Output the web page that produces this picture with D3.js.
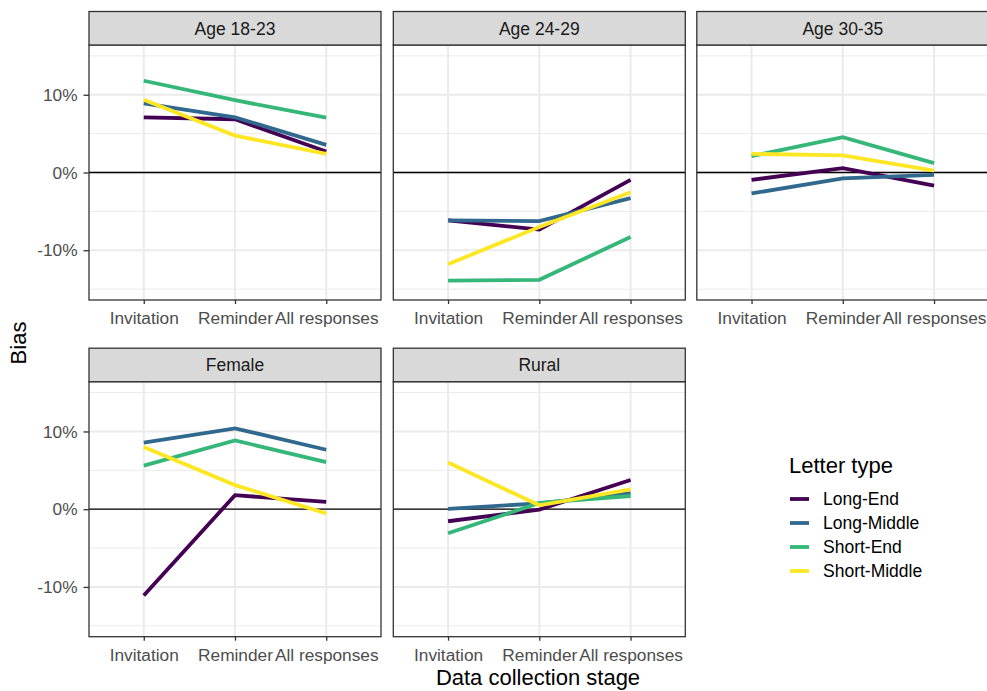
<!doctype html>
<html>
<head>
<style>
    body { margin: 0; background: #fff; }
    text { font-family: "Liberation Sans", Arial, sans-serif; }
</style>
<script src="https://d3js.org/d3.v7.min.js"></script>
</head>
<body>
<svg width="987" height="691"></svg>
<script>
    // data (bias in %)
    var stages = ["Invitation", "Reminder", "All responses"];
    var letterTypes = ["Long-End", "Long-Middle", "Short-End", "Short-Middle"];
    var facets = ["Age 18-23", "Age 24-29", "Age 30-35", "Female", "Rural"];
    var yTicks = [-10, 0, 10];

    var age1823 = [[7.1, 6.85, 2.7], [8.9, 7.1, 3.55], [11.8, 9.3, 7.05], [9.35, 4.75, 2.4]];
    var age2429 = [[-6.15, -7.35, -0.95], [-6.15, -6.25, -3.3], [-13.9, -13.8, -8.3], [-11.8, -7.0, -2.55]];
    var age3035 = [[-0.95, 0.57, -1.7], [-2.7, -0.75, -0.3], [2.1, 4.55, 1.2], [2.4, 2.2, 0.25]];
    var female  = [[-11.1, 1.8, 0.95], [8.55, 10.4, 7.65], [5.6, 8.85, 6.05], [8.0, 3.1, -0.55]];
    var rural   = [[-1.55, -0.05, 3.75], [0.05, 0.75, 2.05], [-3.1, 0.8, 1.7], [6.0, 0.5, 2.55]];
    var facetValues = [age1823, age2429, age3035, female, rural];

    var colors = ["#440154", "#31688E", "#35B779", "#FDE725"];

    var svg = d3.select("svg");
    var font = "'Liberation Sans', Arial, sans-serif";

    var colLeft = [89, 393.3, 696.8],
        panelW = 292,
        rowTop = [45, 381.7],
        panelH = 255,
        stripH = 33.5;

    var color = d3.scaleOrdinal().domain(letterTypes).range(colors);

    facets.forEach(function(name, fi) {
        var col = fi % 3, row = Math.floor(fi / 3);
        var left = colLeft[col], top = rowTop[row];

        var x = d3.scalePoint().domain(stages).range([0, panelW]).padding(0.6);
        var y = d3.scaleLinear().domain([-16.4, 16.4]).range([panelH, 0]);

        var g = svg.append("g").attr("transform", "translate(" + left + "," + top + ")");

        // minor grid
        [-15, -5, 5, 15].forEach(function(v) {
            g.append("line").attr("x1", 0).attr("x2", panelW)
             .attr("y1", y(v)).attr("y2", y(v))
             .attr("stroke", "#ebebeb").attr("stroke-width", 1);
        });
        // major grid
        yTicks.forEach(function(v) {
            g.append("line").attr("x1", 0).attr("x2", panelW)
             .attr("y1", y(v)).attr("y2", y(v))
             .attr("stroke", "#ebebeb").attr("stroke-width", 2);
        });
        stages.forEach(function(s) {
            g.append("line").attr("x1", x(s)).attr("x2", x(s))
             .attr("y1", 0).attr("y2", panelH)
             .attr("stroke", "#ebebeb").attr("stroke-width", 2);
        });

        // zero line
        g.append("line").attr("x1", 0).attr("x2", panelW)
         .attr("y1", y(0)).attr("y2", y(0))
         .attr("stroke", "#000").attr("stroke-width", 1.3);

        // series
        var line = d3.line()
            .x(function(d, i) { return x(stages[i]); })
            .y(function(d) { return y(d); });

        facetValues[fi].forEach(function(vals, si) {
            g.append("path")
             .attr("d", line(vals))
             .attr("fill", "none")
             .attr("stroke", color(letterTypes[si]))
             .attr("stroke-width", 3.8);
        });

        // panel border
        g.append("rect").attr("x", 0).attr("y", 0)
         .attr("width", panelW).attr("height", panelH)
         .attr("fill", "none").attr("stroke", "#333333").attr("stroke-width", 1.3);

        // strip
        g.append("rect").attr("x", 0).attr("y", -stripH)
         .attr("width", panelW).attr("height", stripH)
         .attr("fill", "#d9d9d9").attr("stroke", "#333333").attr("stroke-width", 1.3);
        g.append("text")
         .attr("x", panelW / 2).attr("y", -stripH / 2)
         .attr("dy", "0.36em")
         .attr("text-anchor", "middle")
         .attr("font-size", "17.5px")
         .attr("fill", "#1a1a1a")
         .text(name);

        // x axis
        var xa = g.append("g")
         .attr("transform", "translate(0," + panelH + ")")
         .call(d3.axisBottom(x).tickSize(4).tickPadding(8));
        xa.select(".domain").remove();
        xa.selectAll(".tick line").attr("stroke", "#333333").attr("stroke-width", 1.3);
        xa.selectAll(".tick text")
          .attr("font-family", font).attr("font-size", "17.3px").attr("fill", "#4d4d4d");

        // y axis on first column only
        if (col === 0) {
            var ya = g.append("g")
             .call(d3.axisLeft(y).tickValues(yTicks).tickSize(5.5).tickPadding(6)
                   .tickFormat(function(d) { return d + "%"; }));
            ya.select(".domain").remove();
            ya.selectAll(".tick line").attr("stroke", "#333333").attr("stroke-width", 1.3);
            ya.selectAll(".tick text")
              .attr("font-family", font).attr("font-size", "17.3px").attr("fill", "#4d4d4d");
        }
    });

    // axis titles
    svg.append("text")
       .attr("transform", "translate(26,343) rotate(-90)")
       .attr("text-anchor", "middle")
       .attr("font-size", "22px")
       .attr("fill", "#000")
       .text("Bias");

    svg.append("text")
       .attr("x", 538).attr("y", 685)
       .attr("text-anchor", "middle")
       .attr("font-size", "22px")
       .attr("fill", "#000")
       .text("Data collection stage");

    // legend
    var legend = svg.append("g").attr("transform", "translate(789,0)");
    legend.append("text")
       .attr("x", 0).attr("y", 473)
       .attr("font-size", "22px")
       .attr("fill", "#000")
       .text("Letter type");

    letterTypes.forEach(function(t, i) {
        var ly = 499 + i * 24;
        legend.append("line")
           .attr("x1", 1).attr("x2", 20)
           .attr("y1", ly).attr("y2", ly)
           .attr("stroke", color(t)).attr("stroke-width", 3.8);
        legend.append("text")
           .attr("x", 34).attr("y", ly)
           .attr("dy", "0.36em")
           .attr("font-size", "17.5px")
           .attr("fill", "#000")
           .text(t);
    });
</script>
</body>
</html>
